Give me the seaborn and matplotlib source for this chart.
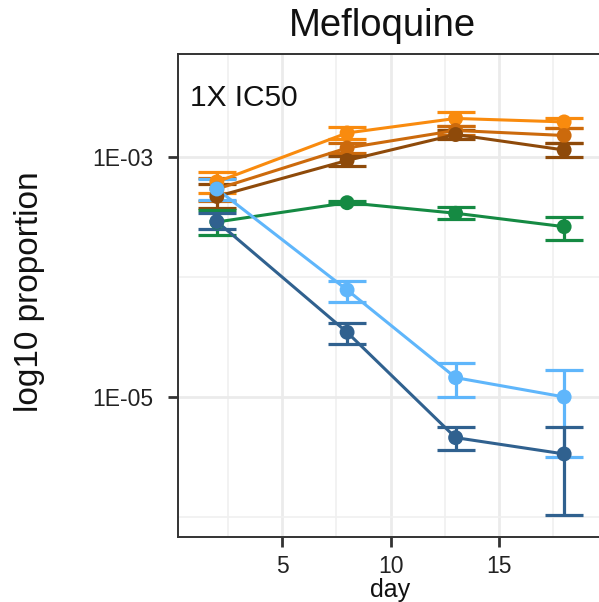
import numpy as np
import pandas as pd
import matplotlib
matplotlib.use("Agg")
import matplotlib.pyplot as plt
import matplotlib.ticker as mticker
import seaborn as sns

# ---- data (log10 proportion) ----
days = [2, 8, 13, 18]
groups = ["A", "B", "C", "D", "E", "F"]
colors = ["#F98B0E", "#CC6A0C", "#8E4A0A", "#158A43", "#5FB6FB", "#30618F"]

mean_A = [-3.208, -2.800, -2.679, -2.708]
lo_A = [-3.303, -2.854, -2.739, -2.761]
hi_A = [-3.123, -2.748, -2.623, -2.678]

mean_B = [-3.267, -2.925, -2.779, -2.821]
lo_B = [-3.367, -2.971, -2.817, -2.886]
hi_B = [-3.175, -2.881, -2.739, -2.761]

mean_C = [-3.329, -3.029, -2.813, -2.942]
lo_C = [-3.428, -3.075, -2.853, -2.998]
hi_C = [-3.228, -2.992, -2.775, -2.886]

mean_D = [-3.542, -3.381, -3.469, -3.581]
lo_D = [-3.650, -3.396, -3.519, -3.692]
hi_D = [-3.442, -3.367, -3.414, -3.498]

mean_E = [-3.267, -4.108, -4.839, -5.000]
lo_E = [-3.358, -4.206, -5.000, -5.498]
hi_E = [-3.186, -4.031, -4.714, -4.775]

mean_F = [-3.538, -4.461, -5.339, -5.475]
lo_F = [-3.603, -4.561, -5.444, -5.983]
hi_F = [-3.464, -4.381, -5.248, -5.253]

means = [mean_A, mean_B, mean_C, mean_D, mean_E, mean_F]
los = [lo_A, lo_B, lo_C, lo_D, lo_E, lo_F]
his = [hi_A, hi_B, hi_C, hi_D, hi_E, hi_F]

rows = []
for g, m, l, h in zip(groups, means, los, his):
    for d, mv, lv, hv in zip(days, m, l, h):
        rows.append(dict(day=d, group=g, prop=10 ** mv, lo=10 ** lv, hi=10 ** hv))
df = pd.DataFrame(rows)

sns.set_theme(style="whitegrid")
plt.rcParams["font.family"] = ["Liberation Sans", "DejaVu Sans"]

W, H = 599, 602
fig = plt.figure(figsize=(W / 100, H / 100), dpi=100)
ax = fig.add_axes([178 / W, (H - 537) / H, 425 / W, 483 / H])

palette = dict(zip(groups, colors))

# error bars
for g, c in zip(groups, colors):
    sub = df[df.group == g]
    ax.errorbar(sub.day, sub.prop,
                yerr=[sub.prop - sub.lo, sub.hi - sub.prop],
                fmt="none", ecolor=c, elinewidth=2.3, capsize=14, capthick=2.3,
                zorder=2)

sns.lineplot(data=df, x="day", y="prop", hue="group", palette=palette,
             estimator=None, lw=2.2, ax=ax, legend=False, zorder=3)
sns.scatterplot(data=df, x="day", y="prop", hue="group", palette=palette,
                s=115, linewidth=0, ax=ax, legend=False, zorder=4)

ax.set_yscale("log")
ax.set_xlim(0.21, 19.79)
ax.set_ylim(10 ** -6.167, 10 ** -2.142)

ax.xaxis.set_major_locator(mticker.FixedLocator([5, 10, 15]))
ax.xaxis.set_minor_locator(mticker.FixedLocator([2.5, 7.5, 12.5, 17.5]))
ax.yaxis.set_major_locator(mticker.FixedLocator([1e-3, 1e-5]))
ax.yaxis.set_minor_locator(mticker.FixedLocator([1e-4, 1e-6]))
ax.yaxis.set_major_formatter(mticker.FixedFormatter(["1E-03", "1E-05"]))
ax.yaxis.set_minor_formatter(mticker.NullFormatter())
ax.xaxis.set_major_formatter(mticker.FixedFormatter(["5", "10", "15"]))

ax.grid(True, which="major", color="#EBEBEB", lw=2.0)
ax.grid(True, which="minor", color="#F0F0F0", lw=1.2)
ax.set_axisbelow(True)
ax.set_facecolor("white")
for s in ax.spines.values():
    s.set_color("#333333")
    s.set_linewidth(1.4)

ax.tick_params(axis="both", which="major", length=7, width=2.0, color="#333333",
               labelsize=16.5, labelcolor="#222222", bottom=True, left=True)
ax.tick_params(axis="x", which="major", pad=6)
ax.tick_params(axis="y", which="major", pad=11)
ax.tick_params(axis="both", which="minor", length=0)

ax.set_xlabel("day", fontsize=18, color="#111111", labelpad=0)
ax.set_ylabel("log10 proportion", fontsize=24, color="#111111")
ax.yaxis.set_label_coords(45 / W, (H - 292) / H, transform=fig.transFigure)

ax.text(190 / W, (H - 98) / H, "1X IC50", transform=fig.transFigure,
        fontsize=21.5, color="#111111", va="center", ha="left")
fig.text(382 / W, (H - 26) / H, "Mefloquine", fontsize=27.5, color="#111111",
         ha="center", va="center")

fig.savefig("out.png", dpi=100)
